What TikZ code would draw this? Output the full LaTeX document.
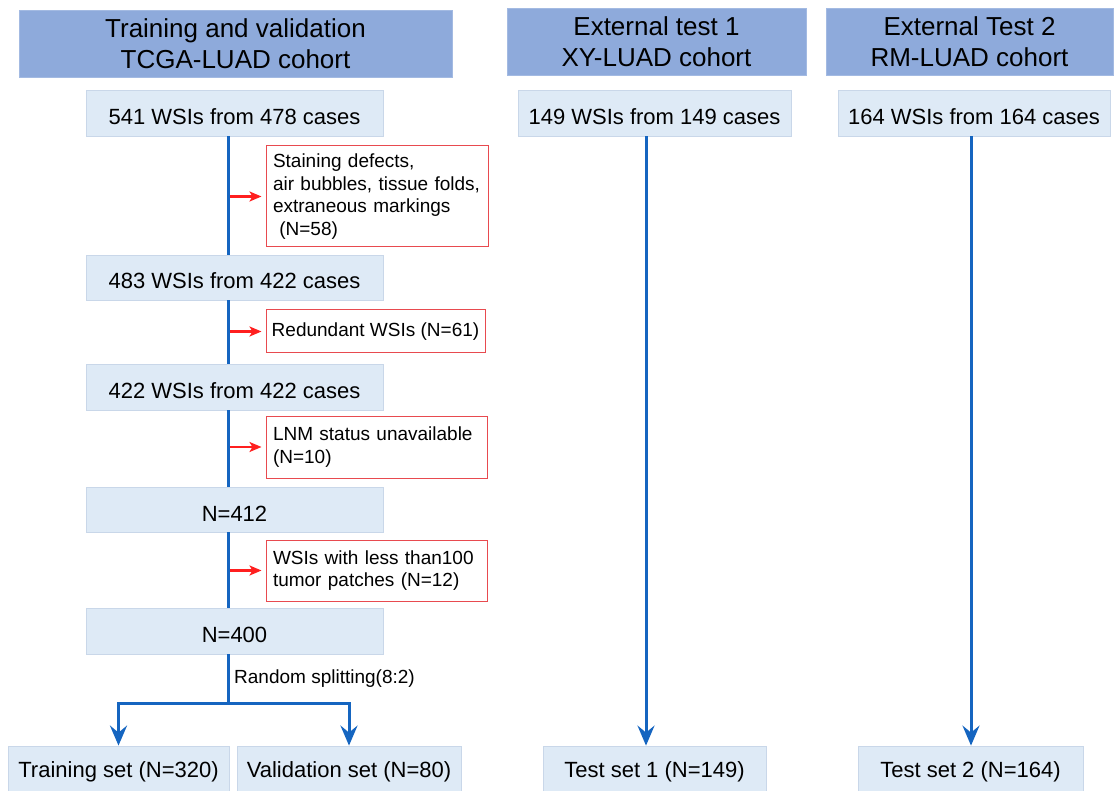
\documentclass[tikz,border=0pt]{standalone}
\usepackage{fontspec}
\setmainfont{Liberation Sans}
\usetikzlibrary{arrows.meta}
\definecolor{hdr}{HTML}{8EAADB}
\definecolor{hdrd}{HTML}{A3BAE2}
\definecolor{boxf}{HTML}{DEEAF6}
\definecolor{boxd}{HTML}{C9D7E9}
\definecolor{redb}{HTML}{E84A4F}
\definecolor{bline}{HTML}{1565C0}
\definecolor{rarr}{HTML}{FF1F1F}
\begin{document}
\begin{tikzpicture}[x=1pt,y=-1pt,
 hdrbox/.style={fill=hdr, draw=hdrd, line width=0.8pt, inner sep=0pt, align=center, font=\fontsize{26}{31}\selectfont},
 stepbox/.style={fill=boxf, draw=boxd, line width=0.8pt, inner sep=0pt, text height=23pt, text depth=0pt, font=\fontsize{22}{26}\selectfont},
 endbox/.style={stepbox, text height=16pt},
 exclbox/.style={draw=redb, fill=white, line width=1pt, inner xsep=7pt, inner ysep=0pt, align=left, font=\fontsize{19}{22.5}\selectfont},
 flow/.style={draw=bline, line width=3pt},
 flowarr/.style={flow, -{Stealth[length=20pt,width=17pt,inset=7pt]}},
 exarr/.style={draw=rarr, line width=2.5pt, -{Stealth[length=12pt,width=10pt,inset=3pt]}},
]
\useasboundingbox (0,0) rectangle (1116,791);

% headers
\node[hdrbox, minimum width=433, minimum height=67] (h1) at (235.5,43.5) {Training and validation\\TCGA-LUAD cohort};
\node[hdrbox, minimum width=299, minimum height=67] (h2) at (656.5,41.5) {External test 1\\XY-LUAD cohort};
\node[hdrbox, minimum width=287, minimum height=67] (h3) at (969.5,41.5) {External Test 2\\RM-LUAD cohort};

% left column
\node[stepbox, minimum width=297, minimum height=46] (b1) at (234.5,113) {541 WSIs from 478 cases};
\node[stepbox, minimum width=297, minimum height=45] (b2) at (234.5,277.5) {483 WSIs from 422 cases};
\node[stepbox, minimum width=297, minimum height=46] (b3) at (234.5,387) {422 WSIs from 422 cases};
\node[stepbox, minimum width=297, minimum height=45] (b4) at (234.5,509.5) {N=412};
\node[stepbox, minimum width=297, minimum height=46] (b5) at (234.5,631) {N=400};

\node[exclbox, text width=208, minimum height=101] (r1) at (377,196.5) {Staining defects,\\air bubbles, tissue folds,\\extraneous markings\\\ (N=58)};
\node[exclbox, inner xsep=4pt, minimum width=219, minimum height=43] (r2) at (375.5,331.5) {Redundant WSIs (N=61)};
\node[exclbox, text width=207, minimum height=62] (r3) at (376.5,447) {LNM status unavailable\\(N=10)};
\node[exclbox, text width=207, minimum height=61] (r4) at (376.5,570.5) {WSIs with less than100\\tumor patches (N=12)};

\node[endbox, minimum width=221, minimum height=46] (tr) at (118.5,769) {Training set (N=320)};
\node[endbox, minimum width=224, minimum height=46] (va) at (349,769) {Validation set (N=80)};

% external columns
\node[stepbox, minimum width=273, minimum height=46] (e1) at (654.5,113) {149 WSIs from 149 cases};
\node[stepbox, minimum width=272, minimum height=46] (e2) at (974,113) {164 WSIs from 164 cases};
\node[endbox, minimum width=223, minimum height=46] (s1) at (654.5,769) {Test set 1 (N=149)};
\node[endbox, minimum width=225, minimum height=46] (s2) at (970.5,769) {Test set 2 (N=164)};

% connectors
\coordinate (L) at (228,0);
\coordinate (X1) at (646,0);
\coordinate (X2) at (971,0);
\coordinate (split) at (228,703);
\coordinate (ra) at (230,0);

\draw[flow] (b1.south -| L) -- (b2.north -| L);
\draw[flow] (b2.south -| L) -- (b3.north -| L);
\draw[flow] (b3.south -| L) -- (b4.north -| L);
\draw[flow] (b4.south -| L) -- (b5.north -| L);
\draw[flow] (b5.south -| L) -- (split);
\draw[flowarr] (split) -| (tr.north);
\draw[flowarr] (split) -| (va.north);
\node[anchor=west, inner sep=0pt, font=\fontsize{19}{22.5}\selectfont] (rs) at (234,679) {Random splitting(8:2)};

\draw[exarr, shorten >=4pt] (r1.west -| ra) -- (r1.west);
\draw[exarr, shorten >=4pt] (r2.west -| ra) -- (r2.west);
\draw[exarr, shorten >=4pt] (r3.west -| ra) -- (r3.west);
\draw[exarr, shorten >=4pt] (r4.west -| ra) -- (r4.west);

\draw[flowarr] (e1.south -| X1) -- (s1.north -| X1);
\draw[flowarr] (e2.south -| X2) -- (s2.north -| X2);
\end{tikzpicture}
\end{document}
